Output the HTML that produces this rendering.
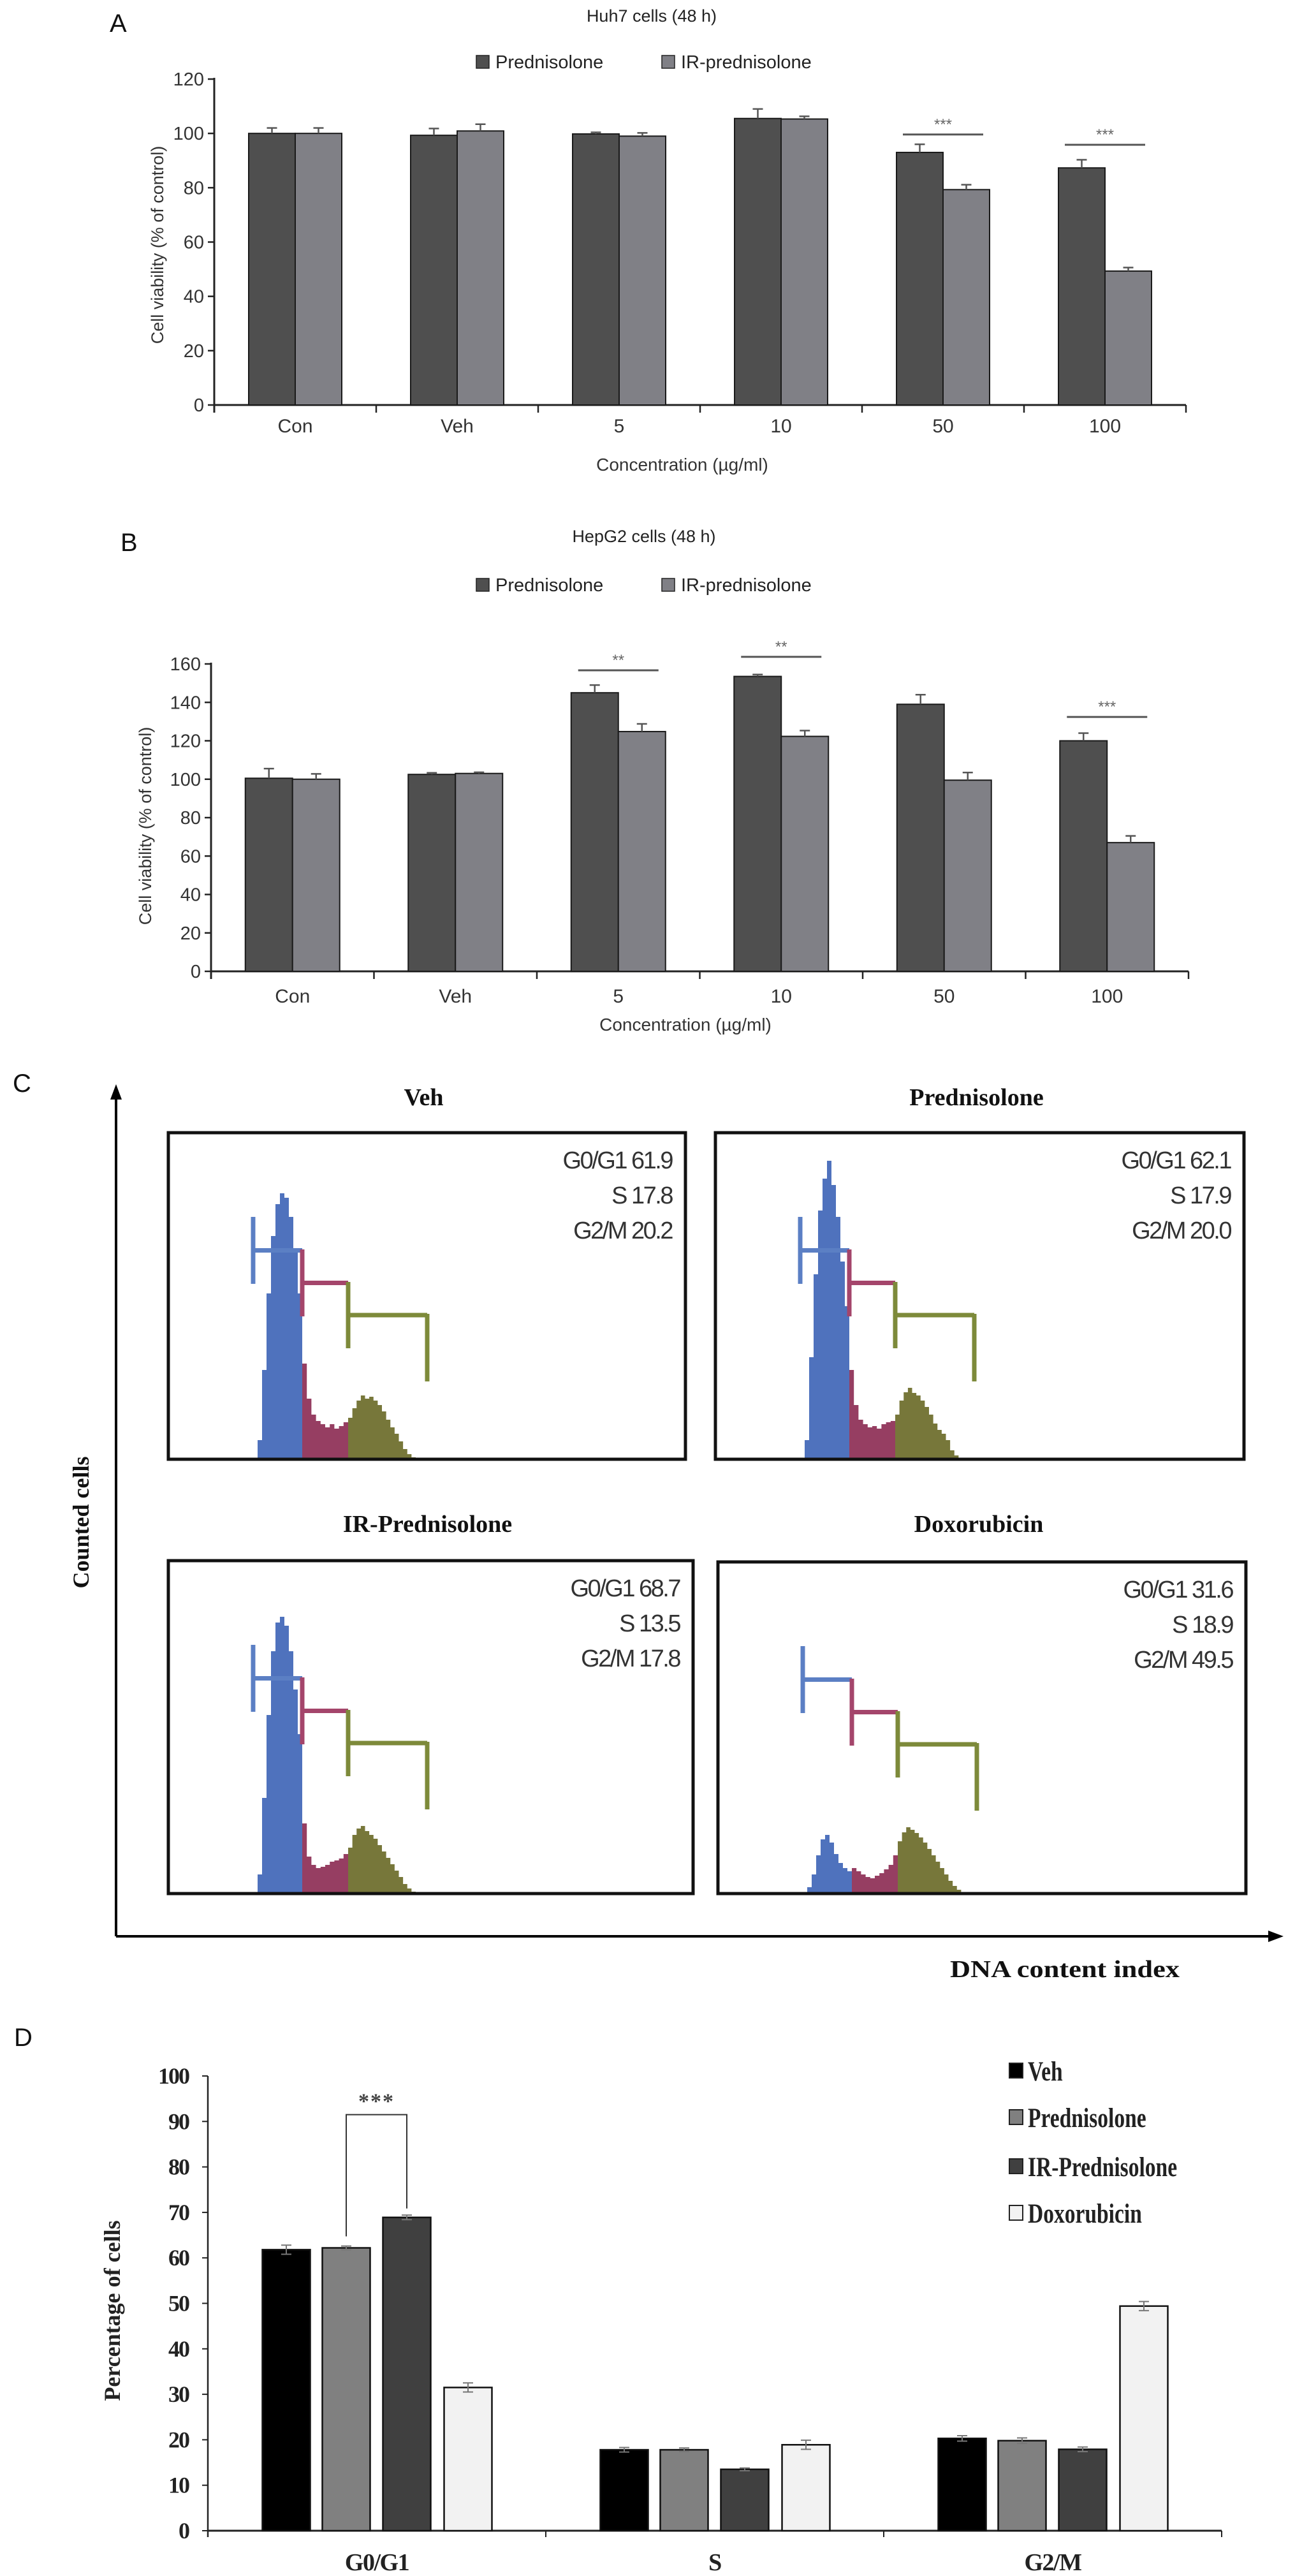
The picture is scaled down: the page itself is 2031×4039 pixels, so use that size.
<!DOCTYPE html>
<html><head><meta charset="utf-8"><title>Prednisolone cell viability and cell cycle</title>
<style>
html,body{margin:0;padding:0;background:#fff;}
svg{display:block;}
.sans{font-family:"Liberation Sans",Arial,sans-serif;}
.serif{font-family:"Liberation Serif","Times New Roman",serif;font-weight:bold;}
</style></head>
<body>
<svg id="fig" width="2031" height="4039" viewBox="0 0 2031 4039" xmlns="http://www.w3.org/2000/svg">
<rect x="0" y="0" width="2031" height="4039" fill="#fff"/>
</svg>
<script>
// ---------- DATA ----------
const catsAB = ["Con","Veh","5","10","50","100"];
const seriesAB = ["Prednisolone","IR-prednisolone"];
const aPred = [100, 99.3, 99.8, 105.5, 93, 87.3];
const aPredErr = [2, 2.5, 0.6, 3.5, 3, 3];
const aIR = [100, 100.9, 99, 105.3, 79.3, 49.3];
const aIRErr = [2, 2.5, 1.2, 1, 1.8, 1.3];
const aTicks = [0,20,40,60,80,100,120];
const aSig = [{g:4, v:99.6, s:"***"},{g:5, v:95.8, s:"***"}];

const bPred = [100.5, 102.5, 145, 153.5, 139, 120];
const bPredErr = [5, 0.8, 4, 1, 5, 4];
const bIR = [100, 103, 124.8, 122.3, 99.5, 67];
const bIRErr = [2.8, 0.6, 4, 3, 4, 3.5];
const bTicks = [0,20,40,60,80,100,120,140,160];
const bSig = [{g:2, v:156.7, s:"**"},{g:3, v:163.7, s:"**"},{g:5, v:132.4, s:"***"}];

const cPanels = ["Veh","Prednisolone","IR-Prednisolone","Doxorubicin"];
const cG0G1 = ["61.9","62.1","68.7","31.6"];
const cS = ["17.8","17.9","13.5","18.9"];
const cG2M = ["20.2","20.0","17.8","49.5"];
const histBlue = [
  [30,140,260,350,400,417,410,380,330,260],
  [30,160,290,390,440,468,430,380,310,240],
  [30,150,280,380,425,434,420,380,320,250],
  [10,30,60,85,92,80,62,48,40,35]];
const histRed = [
  [150,95,70,60,55,50,55,48,52,58],
  [140,85,62,55,50,52,48,55,58,60],
  [110,58,45,40,42,45,50,52,55,62],
  [40,35,30,26,24,28,32,38,45,60]];
const histGreen = [
  [65,80,92,100,95,98,92,85,75,62,50,40,28,16,8,3],
  [70,92,105,112,104,100,92,82,70,56,46,40,30,14,6,2],
  [72,92,102,106,98,92,86,76,66,56,46,36,26,15,8,3],
  [82,96,104,100,95,88,80,70,60,50,40,30,20,12,6,2]];

const dCats = ["G0/G1","S","G2/M"];
const dSeries = ["Veh","Prednisolone","IR-Prednisolone","Doxorubicin"];
const dVeh = [61.8, 17.8, 20.3];
const dPred = [62.2, 17.8, 19.8];
const dIR = [68.9, 13.5, 17.9];
const dDox = [31.5, 18.9, 49.4];
const dErr = [[1,0.5,0.6],[0.4,0.4,0.6],[0.5,0.3,0.5],[1,1,1]];
const dTicks = [0,10,20,30,40,50,60,70,80,90,100];

// ---------- HELPERS ----------
const NS = "http://www.w3.org/2000/svg";
const svg = document.getElementById('fig');
function mk(tag, attrs, parent){
  const e = document.createElementNS(NS, tag);
  for (const k in attrs) e.setAttribute(k, attrs[k]);
  (parent || svg).appendChild(e);
  return e;
}
function tx(x, y, s, attrs, parent){
  const e = mk('text', Object.assign({x:x, y:y}, attrs), parent);
  e.textContent = s;
  return e;
}

// ---------- BAR CHART A / B ----------
function barChart(opt){
  const g = mk('g', {});
  
  
  const yOf = v => opt.y0 - v * opt.ppu;
  const xCenter = i => opt.x0 + opt.gw * (i + 0.5);
  const tmax = opt.ticks[opt.ticks.length-1];
  let t = tx(opt.letterX, opt.letterY, opt.letter, {class:'sans', 'font-size':40, fill:'#111'}, g);
  
  
  t = tx(opt.titleX, opt.titleY, opt.title, {class:'sans', 'font-size':27, fill:'#222', 'text-anchor':'middle'}, g);
  
  
  const legCols = ['#4f4f4f', '#808086'];
  const legX = [747, 1038];
  seriesAB.forEach((s, i) => {
    const r = mk('rect', {x:legX[i], y:opt.legY-10, width:20, height:20, fill:legCols[i], stroke:'#222', 'stroke-width':1.5}, g);
    
    
    const l = tx(legX[i]+30, opt.legY+10, s, {class:'sans', 'font-size':29, fill:'#222'}, g);
    
    
  });
  const xEnd = opt.x0 + opt.gw * catsAB.length;
  let ax = mk('line', {x1:opt.x0, y1:yOf(tmax)-2, x2:opt.x0, y2:opt.y0+12, stroke:'#222', 'stroke-width':3}, g);
  
  
  ax = mk('line', {x1:opt.x0, y1:opt.y0, x2:xEnd, y2:opt.y0, stroke:'#222', 'stroke-width':3}, g);
  
  
  opt.ticks.forEach(v => {
    const tk = mk('line', {x1:opt.x0-10, y1:yOf(v), x2:opt.x0, y2:yOf(v), stroke:'#222', 'stroke-width':2.5}, g);
    
    
    const tl = tx(opt.x0-16, yOf(v)+10, String(v), {class:'sans', 'font-size':29, fill:'#333', 'text-anchor':'end'}, g);
    
    
  });
  for (let i = 0; i <= catsAB.length; i++){
    const tk = mk('line', {x1:opt.x0+opt.gw*i, y1:opt.y0, x2:opt.x0+opt.gw*i, y2:opt.y0+12, stroke:'#222', 'stroke-width':2.5}, g);
    
    
  }
  catsAB.forEach((c, i) => {
    const tl = tx(xCenter(i), opt.catY, c, {class:'sans', 'font-size':30, fill:'#333', 'text-anchor':'middle'}, g);
    
    
  });
  const yt = tx(0, 0, 'Cell viability (% of control)', {class:'sans', 'font-size':27, fill:'#333', 'text-anchor':'middle', transform:'translate(' + opt.ytX + ',' + opt.ytY + ') rotate(-90)'}, g);
  
  
  const xt = tx(opt.xtX, opt.xtY, 'Concentration (\u00b5g/ml)', {class:'sans', 'font-size':28, fill:'#333', 'text-anchor':'middle'}, g);
  
  
  const bw = opt.bw;
  [[opt.pred, opt.predErr, '#4f4f4f'], [opt.ir, opt.irErr, '#808086']].forEach((sr, si) => {
    sr[0].forEach((v, i) => {
      const x = si === 0 ? xCenter(i) - bw : xCenter(i);
      const b = mk('rect', {x:x, y:yOf(v), width:bw, height:opt.y0 - yOf(v), fill:sr[2], stroke:'#1a1a1a', 'stroke-width':2}, g);
      
      
      const ex = x + bw/2, e = sr[1][i];
      const el = mk('path', {d:'M'+ex+','+yOf(v)+'V'+yOf(v+e)+'M'+(ex-8)+','+yOf(v+e)+'H'+(ex+8), stroke:'#555', 'stroke-width':2.5, fill:'none'}, g);
      
      
    });
  });
  opt.sig.forEach(s => {
    const cx = xCenter(s.g);
    const l = mk('line', {x1:cx-63, y1:yOf(s.v), x2:cx+63, y2:yOf(s.v), stroke:'#555', 'stroke-width':3}, g);
    
    
    const st = tx(cx, yOf(s.v)-8, s.s, {class:'sans', 'font-size':24, fill:'#666', 'text-anchor':'middle'}, g);
    
    
  });
}

barChart({name:'chart-a-huh7', letter:'A', letterX:172, letterY:50, title:'Huh7 cells (48 h)', titleX:1022, titleY:34, legY:97,
  x0:336, y0:635, ppu:511/120, gw:254, bw:73, ticks:aTicks, catY:678, ytX:256, ytY:384, xtX:1070, xtY:738,
  pred:aPred, predErr:aPredErr, ir:aIR, irErr:aIRErr, sig:aSig});
barChart({name:'chart-b-hepg2', letter:'B', letterX:189, letterY:864, title:'HepG2 cells (48 h)', titleX:1010, titleY:850, legY:917,
  x0:331, y0:1523, ppu:482/160, gw:255.5, bw:74, ticks:bTicks, catY:1572, ytX:237, ytY:1295, xtX:1075, xtY:1616,
  pred:bPred, predErr:bPredErr, ir:bIR, irErr:bIRErr, sig:bSig});

// ---------- PANEL C ----------
(function(){
  const g = mk('g', {});
  
  
  let t = tx(20, 1712, 'C', {class:'sans', 'font-size':40, fill:'#111'}, g);
  
  
  let a = mk('path', {d:'M182,3036V1720 M182,3036H1995', stroke:'#000', 'stroke-width':4, fill:'none'}, g);
  
  
  a = mk('path', {d:'M182,1700 L173,1724 L191,1724 Z', fill:'#000'}, g);
  
  
  a = mk('path', {d:'M2013,3036 L1989,3027 L1989,3045 Z', fill:'#000'}, g);
  
  
  t = tx(0, 0, 'Counted  cells', {class:'serif', 'font-size':36, fill:'#111', 'text-anchor':'middle', transform:'translate(139,2387) rotate(-90)'}, g);
  
  
  t = tx(1670, 3100, 'DNA content index', {class:'serif', 'font-size':38, fill:'#111', 'text-anchor':'middle', textLength:360, lengthAdjust:'spacingAndGlyphs'}, g);
  
  

  const boxL = [264, 1122, 264, 1126];
  const boxR = [1075, 1951, 1087, 1954];
  const boxT = [1776, 1776, 2447, 2449];
  const boxB = [2288, 2288, 2969, 2969];
  const titleY = [1733, 1733, 2402, 2402];
  cPanels.forEach((name, p) => {
    const L = boxL[p], R = boxR[p], T = boxT[p], B = boxB[p];
    const pg = mk('g', {}, g);
    
    
    let tt = tx((L+R)/2 - 5, titleY[p], name, {class:'serif', 'font-size':38, fill:'#111', 'text-anchor':'middle'}, pg);
    
    
    const regions = [[histBlue[p], 140, 210, '#4f72bd'], [histRed[p], 210, 282, '#963e62'], [histGreen[p], 282, 388, '#77773a']];
    regions.forEach((rg, ri) => {
      const h = rg[0], x1 = L + rg[1], x2 = L + rg[2], w = (x2 - x1) / h.length;
      let d = 'M' + x1 + ',' + B;
      h.forEach((v, i) => { d += 'V' + (B - v) + 'H' + (x1 + w*(i+1)); });
      d += 'V' + B + 'Z';
      const hp = mk('path', {d:d, fill:rg[3]}, pg);
      
      
    });
    const gates = [[133, 210, 132, 237, '#5b7fc4'], [210, 282, 183, 288, '#a4456b'], [282, 406, 234, 338, '#7d8a3a']];
    gates.forEach((gt, gi) => {
      const xa = L + gt[0], xb = L + gt[1], ya = T + gt[2], yb = T + gt[3], ym = (ya + yb) / 2;
      let d = 'M' + xa + ',' + ya + 'V' + yb + 'M' + xa + ',' + ym + 'H' + xb;
      if (gi === 2) d += 'M' + xb + ',' + (ya + 50) + 'V' + (yb + 52);
      const gp = mk('path', {d:d, stroke:gt[4], 'stroke-width':7, fill:'none'}, pg);
      
      
    });
    const bx = mk('rect', {x:L, y:T, width:R-L, height:B-T, fill:'none', stroke:'#111', 'stroke-width':5}, pg);
    
    
    const lines = ['G0/G1 ' + cG0G1[p], 'S ' + cS[p], 'G2/M ' + cG2M[p]];
    lines.forEach((s, li) => {
      const st = tx(R - 21, T + 56 + li*55, s, {class:'sans', 'font-size':38, fill:'#333', 'text-anchor':'end', 'letter-spacing':-2.5}, pg);
      
      
    });
  });
})();

// ---------- PANEL D ----------
(function(){
  const g = mk('g', {});
  
  
  const x0 = 326, y0 = 3968, ppu = 713/100, gw = 530, bw = 75;
  const offs = [-142, -48, 47, 143];
  const cols = ['#000000', '#808080', '#404040', '#f2f2f2'];
  const yOf = v => y0 - v * ppu;
  const xC = i => x0 + gw * (i + 0.5);
  let t = tx(22, 3208, 'D', {class:'sans', 'font-size':40, fill:'#111'}, g);
  
  
  let ax = mk('line', {x1:x0, y1:yOf(100), x2:x0, y2:y0+10, stroke:'#222', 'stroke-width':2.5}, g);
  
  
  ax = mk('line', {x1:x0, y1:y0, x2:x0+gw*3, y2:y0, stroke:'#222', 'stroke-width':3}, g);
  
  
  dTicks.forEach(v => {
    const tk = mk('line', {x1:x0-9, y1:yOf(v), x2:x0, y2:yOf(v), stroke:'#222', 'stroke-width':2}, g);
    
    
    const tl = tx(x0-30, yOf(v)+12, String(v), {class:'serif', 'font-size':36, fill:'#222', 'text-anchor':'end', 'letter-spacing':-2}, g);
    
    
  });
  for (let i = 0; i <= 3; i++){
    const tk = mk('line', {x1:x0+gw*i, y1:y0, x2:x0+gw*i, y2:y0+10, stroke:'#222', 'stroke-width':2}, g);
    
    
  }
  dCats.forEach((c, i) => {
    const tl = tx(xC(i), 4030, c, {class:'serif', 'font-size':38, fill:'#222', 'text-anchor':'middle', 'letter-spacing':-1.5}, g);
    
    
  });
  t = tx(0, 0, 'Percentage  of  cells', {class:'serif', 'font-size':36, fill:'#222', 'text-anchor':'middle', transform:'translate(188,3623) rotate(-90)'}, g);
  
  
  [dVeh, dPred, dIR, dDox].forEach((sr, si) => {
    sr.forEach((v, i) => {
      const x = xC(i) + offs[si] - bw/2;
      const b = mk('rect', {x:x, y:yOf(v), width:bw, height:y0 - yOf(v), fill:cols[si], stroke:'#111', 'stroke-width':2.5}, g);
      
      
      const e = dErr[si][i], ex = x + bw/2;
      const ep = mk('path', {d:'M'+ex+','+yOf(v-e)+'V'+yOf(v+e)+'M'+(ex-8)+','+yOf(v+e)+'H'+(ex+8)+'M'+(ex-8)+','+yOf(v-e)+'H'+(ex+8), stroke:'#777', 'stroke-width':2, fill:'none'}, g);
      
      
    });
  });
  const bx1 = xC(0) + offs[1], bx2 = xC(0) + offs[2];
  const br = mk('path', {d:'M'+bx1+','+(yOf(dPred[0])-18)+'V'+yOf(91.5)+'H'+bx2+'V'+(yOf(dIR[0])-14), stroke:'#333', 'stroke-width':2, fill:'none'}, g);
  
  
  t = tx((bx1+bx2)/2, yOf(91.5)-10, '***', {class:'serif', 'font-size':34, fill:'#444', 'text-anchor':'middle', 'letter-spacing':2}, g);
  
  
  const legY = [3247, 3320, 3397, 3470];
  dSeries.forEach((s, i) => {
    const r = mk('rect', {x:1583, y:legY[i]-12, width:21, height:23, fill:cols[i], stroke:'#222', 'stroke-width':2}, g);
    
    
    const l = tx(0, 0, s, {class:'serif', 'font-size':43, fill:'#222', transform:'translate(1612,' + (legY[i]+15) + ') scale(0.78,1)'}, g);
    
    
  });
})();
</script>
</body></html>
